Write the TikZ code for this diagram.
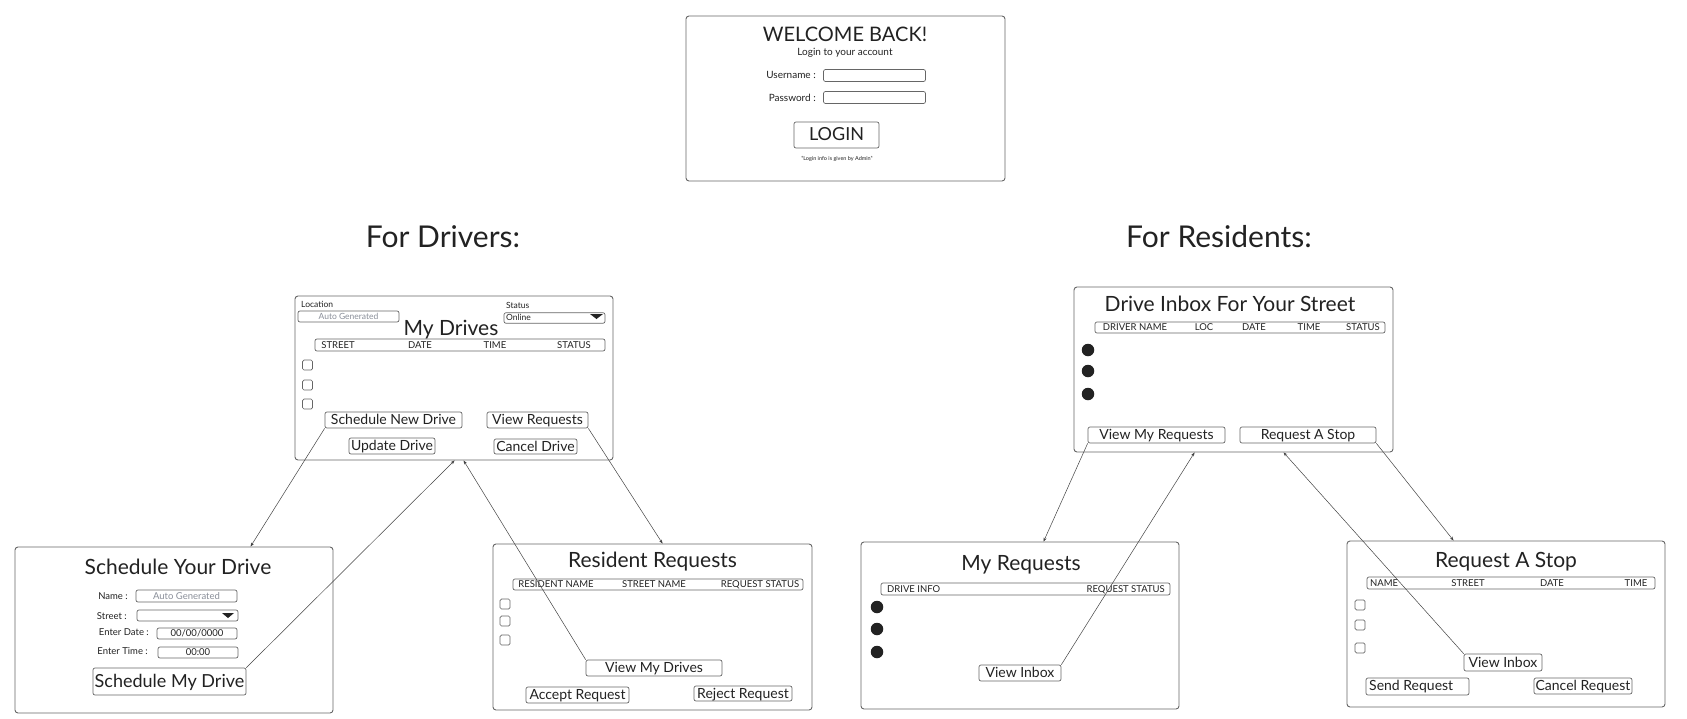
\documentclass[tikz,border=0pt]{standalone}
\usepackage{fontspec}
\setmainfont{Lato}
\usetikzlibrary{arrows.meta}
\definecolor{ink}{HTML}{222222}
\definecolor{edge}{HTML}{666666}
\definecolor{ghost}{HTML}{8A8F99}
\newcommand\myfs[1]{\fontsize{#1}{#1}\selectfont}
\begin{document}
\begin{tikzpicture}[x=1pt,y=-1pt,
 fsz/.style={font=\myfs{#1}, text height=0.72*#1pt, text depth=0.06*#1pt},
 screen/.style={draw=edge, line width=0.9pt, rounded corners=3pt, inner sep=0pt, fill=white},
 btn/.style={draw=edge, line width=0.7pt, rounded corners=2pt, inner sep=0pt, text=ink},
 cbox/.style={draw=edge, line width=0.7pt, rounded corners=1.5pt, minimum size=10pt, inner sep=0pt},
 dot/.style={circle, fill=ink, minimum size=12.5pt, inner sep=0pt},
 lbl/.style={text=ink, inner sep=0pt},
 conn/.style={draw=ink!85, line width=0.5pt, -{Stealth[length=4pt,width=3pt]}},
 ]
\useasboundingbox[fill=white] (0,0) rectangle (1687,718);

% ---------- Login ----------
\node[screen, minimum width=319pt, minimum height=165pt] (login) at (845.5,98.5) {};
\node[lbl, fsz=20] (wb) at (845,35) {WELCOME BACK!};
\node[lbl, fsz=10] (lta) at (845,52) {Login to your account};
\node[lbl, fsz=10, anchor=east] (unl) at (816,75) {Username :};
\node[btn, minimum width=102pt, minimum height=12pt] (unf) at (874.5,75.5) {};
\node[lbl, fsz=10, anchor=east] (pwl) at (816,98) {Password :};
\node[btn, minimum width=102pt, minimum height=12pt] (pwf) at (874.5,97.5) {};
\node[btn, minimum width=85pt, minimum height=26pt, fsz=18] (lgb) at (836.5,135) {LOGIN};
\node[lbl, fsz=5.5] (note) at (837,159) {*Login info is given by Admin*};

\node[lbl, fsz=30] (fd) at (443,238) {For Drivers:};
\node[lbl, fsz=30] (fr) at (1219,238) {For Residents:};

% ---------- My Drives ----------
\node[screen, minimum width=318pt, minimum height=164pt] (md) at (454,378) {};
\node[lbl, fsz=8.5, anchor=west] (locl) at (301,305) {Location};
\node[btn, minimum width=101pt, minimum height=11pt, fsz=8.5, text=ghost] (locf) at (348.5,316.5) {Auto Generated};
\node[lbl, fsz=8.5, anchor=west] (stl) at (506,306) {Status};
\node[btn, minimum width=101pt, minimum height=10.5pt] (stf) at (554.5,318) {};
\node[lbl, fsz=8.5, anchor=west] (onl) at (506,318) {Online};
\fill[ink] (590,314) -- (603,314) -- (596.5,319) -- cycle;
\node[lbl, fsz=21] (mdt) at (451,329) {My Drives};
\node[btn, minimum width=290pt, minimum height=12pt] (mdh) at (460,345) {};
\node[lbl, fsz=9.5] at (338,345) {STREET};
\node[lbl, fsz=9.5] at (420,345) {DATE};
\node[lbl, fsz=9.5] at (495,345) {TIME};
\node[lbl, fsz=9.5] at (574,345) {STATUS};
\node[cbox] (mdc1) at (307.5,365) {};
\node[cbox] (mdc2) at (307.5,385) {};
\node[cbox] (mdc3) at (307.5,404) {};
\node[btn, minimum width=137pt, minimum height=16pt, fsz=14] (snd) at (393.5,420) {Schedule New Drive};
\node[btn, minimum width=101pt, minimum height=16pt, fsz=14] (vrq) at (537.5,420) {View Requests};
\node[btn, minimum width=86pt, minimum height=16pt, fsz=14] (upd) at (392,446) {Update Drive};
\node[btn, minimum width=83pt, minimum height=15pt, fsz=14] (cnd) at (535.5,446.5) {Cancel Drive};

% ---------- Schedule Your Drive ----------
\node[screen, minimum width=318pt, minimum height=166pt] (syd) at (174,630) {};
\node[lbl, fsz=21] (sydt) at (178,568) {Schedule Your Drive};
\node[lbl, fsz=9.5, anchor=east] (nml) at (128,596) {Name :};
\node[btn, minimum width=101pt, minimum height=12pt, fsz=9.5, text=ghost] (nmf) at (186.5,596) {Auto Generated};
\node[lbl, fsz=9.5, anchor=east] (srl) at (127,616) {Street :};
\node[btn, minimum width=101pt, minimum height=11pt] (srf) at (187.5,615.5) {};
\fill[ink] (222,613) -- (234,613) -- (228,618) -- cycle;
\node[lbl, fsz=9.5, anchor=east] (edl) at (149,632) {Enter Date :};
\node[btn, minimum width=80pt, minimum height=11pt, fsz=9.5] (edf) at (197,633.5) {00/00/0000};
\node[lbl, fsz=9.5, anchor=east] (etl) at (148,651) {Enter Time :};
\node[btn, minimum width=80pt, minimum height=11pt, fsz=9.5] (etf) at (198,652.5) {00:00};
\node[btn, minimum width=153pt, minimum height=27pt, fsz=18] (smd) at (169.5,681.5) {Schedule My Drive};

% ---------- Resident Requests ----------
\node[screen, minimum width=319pt, minimum height=166pt] (rr) at (652.5,627) {};
\node[lbl, fsz=21] (rrt) at (652.5,561) {Resident Requests};
\node[btn, minimum width=290pt, minimum height=11pt] (rrh) at (658,584.5) {};
\node[lbl, fsz=9.5] at (556,584.5) {RESIDENT NAME};
\node[lbl, fsz=9.5] at (654,584.5) {STREET NAME};
\node[lbl, fsz=9.5] at (760,584.5) {REQUEST STATUS};
\node[cbox] (rrc1) at (505,604) {};
\node[cbox] (rrc2) at (505,621) {};
\node[cbox] (rrc3) at (505,640) {};
\node[btn, minimum width=136pt, minimum height=16pt, fsz=14] (vmd) at (654,668) {View My Drives};
\node[btn, minimum width=103pt, minimum height=16pt, fsz=14] (acr) at (577.5,695) {Accept Request};
\node[btn, minimum width=98pt, minimum height=15pt, fsz=14] (rjr) at (743,693.5) {Reject Request};

% ---------- Drive Inbox ----------
\node[screen, minimum width=319pt, minimum height=165pt] (di) at (1233.5,369.5) {};
\node[lbl, fsz=21] (dit) at (1230,305) {Drive Inbox For Your Street};
\node[btn, minimum width=290pt, minimum height=11pt] (dih) at (1240,327.5) {};
\node[lbl, fsz=9.5] at (1135,327.5) {DRIVER NAME};
\node[lbl, fsz=9.5] at (1204,327.5) {LOC};
\node[lbl, fsz=9.5] at (1254,327.5) {DATE};
\node[lbl, fsz=9.5] at (1309,327.5) {TIME};
\node[lbl, fsz=9.5] at (1363,327.5) {STATUS};
\node[dot] (did1) at (1088,350) {};
\node[dot] (did2) at (1088,371) {};
\node[dot] (did3) at (1088,394) {};
\node[btn, minimum width=137pt, minimum height=16pt, fsz=14] (vmr) at (1156.5,435) {View My Requests};
\node[btn, minimum width=136pt, minimum height=16pt, fsz=14] (rsb) at (1308,435) {Request A Stop};

% ---------- My Requests ----------
\node[screen, minimum width=318pt, minimum height=167pt] (mr) at (1020,625.5) {};
\node[lbl, fsz=21] (mrt) at (1021,564) {My Requests};
\node[btn, minimum width=289pt, minimum height=12pt] (mrh) at (1025.5,589) {};
\node[lbl, fsz=9.5, anchor=west] at (887,589) {DRIVE INFO};
\node[lbl, fsz=9.5, anchor=east] at (1165,589) {REQUEST STATUS};
\node[dot] (mrd1) at (877,607) {};
\node[dot] (mrd2) at (877,629) {};
\node[dot] (mrd3) at (877,652) {};
\node[btn, minimum width=82pt, minimum height=16pt, fsz=14] (vib1) at (1020,673) {View Inbox};

% ---------- Request A Stop ----------
\node[screen, minimum width=318pt, minimum height=166pt] (ras) at (1506,624) {};
\node[lbl, fsz=21] (rast) at (1506,561) {Request A Stop};
\node[btn, minimum width=288pt, minimum height=12pt] (rash) at (1511,583) {};
\node[lbl, fsz=9.5, anchor=west] at (1370,583) {NAME};
\node[lbl, fsz=9.5] at (1468,583) {STREET};
\node[lbl, fsz=9.5] at (1552,583) {DATE};
\node[lbl, fsz=9.5] at (1636,583) {TIME};
\node[cbox] (rasc1) at (1360,605) {};
\node[cbox] (rasc2) at (1360,625) {};
\node[cbox] (rasc3) at (1360,648) {};
\node[btn, minimum width=78pt, minimum height=17pt, fsz=14] (vib2) at (1503,662.5) {View Inbox};
\node[btn, minimum width=103pt, minimum height=17pt] (sdr) at (1417.5,686.5) {};
\node[lbl, fsz=14, anchor=west] (sdrt) at (1369,686) {Send Request};
\node[btn, minimum width=98pt, minimum height=16pt, fsz=14] (cnr) at (1583,686) {Cancel Request};

% ---------- Connectors ----------
\draw[conn] (snd.south west) -- ([xshift=236pt]syd.north west);
\draw[conn] (smd.north east) -- ([xshift=160pt]md.south west);
\draw[conn] (vmd.north west) -- ([xshift=169pt]md.south west);
\draw[conn] (vrq.south east) -- ([xshift=170pt]rr.north west);
\draw[conn] (vmr.south west) -- ([xshift=183pt]mr.north west);
\draw[conn] (vib1.north east) -- ([xshift=121pt]di.south west);
\draw[conn] (vib2.north west) -- ([xshift=210pt]di.south west);
\draw[conn] (rsb.south east) -- ([xshift=107pt]ras.north west);
\end{tikzpicture}
\end{document}
